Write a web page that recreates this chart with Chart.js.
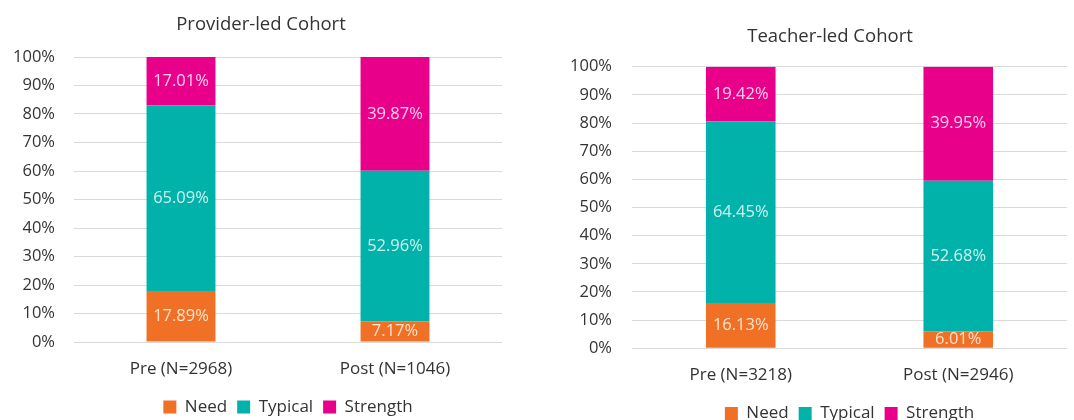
<!DOCTYPE html>
<html>
<head>
<meta charset="utf-8">
<script src="https://cdn.jsdelivr.net/npm/chart.js@4.4.0/dist/chart.umd.min.js"></script>
<style>
  html, body { margin: 0; padding: 0; background: #fff; overflow: hidden; width: 1074px; height: 420px; }
  canvas { position: absolute; top: 0; }
  #providerChart { left: 0; }
  #teacherChart { left: 540px; }
</style>
</head>
<body>
<canvas id="providerChart" width="540" height="440"></canvas>
<canvas id="teacherChart" width="534" height="440"></canvas>
<script>
// data
const groups = ["Need", "Typical", "Strength"];

const providerLabels = ["Pre (N=2968)", "Post (N=1046)"];
const providerNeed = [17.89, 7.17];
const providerTypical = [65.09, 52.96];
const providerStrength = [17.01, 39.87];

const teacherLabels = ["Pre (N=3218)", "Post (N=2946)"];
const teacherNeed = [16.13, 6.01];
const teacherTypical = [64.45, 52.68];
const teacherStrength = [19.42, 39.95];

const yTicks = [0, 10, 20, 30, 40, 50, 60, 70, 80, 90, 100];

const barColors = ["#F07026", "#00B2A9", "#E8008A"];
const textColors = ["#FFE3CF", "#CDF3EF", "#FFD0EA"];
const FONT = "'Open Sans', sans-serif";
const INK = "#333333";

// 100% stacked: each column is scaled to its own total
function toShares(rows) {
  return rows.map(r => r.map((v, i) => {
    let total = rows.reduce((s, row) => s + row[i], 0);
    return v / total * 100;
  }));
}

// value labels in the middle of each segment
const barLabels = {
  id: "barLabels",
  afterDatasetsDraw(chart) {
    const ctx = chart.ctx;
    ctx.save();
    ctx.font = "16.5px " + FONT;
    ctx.textAlign = "center";
    ctx.textBaseline = "middle";
    chart.data.datasets.forEach((ds, d) => {
      chart.getDatasetMeta(d).data.forEach((bar, i) => {
        const p = bar.getCenterPoint();
        ctx.fillStyle = ds.labelColor;
        ctx.fillText(ds.raw[i].toFixed(2) + "%", p.x, p.y);
      });
    });
    ctx.restore();
  }
};

// title sits a bit left of the plot centre, like the original
const sideTitle = {
  id: "sideTitle",
  afterDraw(chart, args, opts) {
    const ctx = chart.ctx;
    ctx.save();
    ctx.font = "18.5px " + FONT;
    ctx.fillStyle = INK;
    ctx.textAlign = "center";
    ctx.textBaseline = "middle";
    ctx.fillText(opts.text, opts.x, opts.y);
    ctx.restore();
  }
};

function makeChart(id, labels, need, typical, strength, title, L) {
  const raw = [need, typical, strength];
  const shares = toShares(raw);
  const ctx = document.getElementById(id).getContext("2d");

  return new Chart(ctx, {
    type: "bar",
    data: {
      labels: labels,
      datasets: groups.map((g, k) => ({
        label: g,
        data: shares[k],
        raw: raw[k],
        backgroundColor: barColors[k],
        labelColor: textColors[k],
        borderWidth: 0,
        categoryPercentage: 1,
        barPercentage: L.bar
      }))
    },
    plugins: [barLabels, sideTitle],
    options: {
      responsive: false,
      animation: false,
      layout: { padding: { top: L.padTop, right: L.padRight, bottom: L.padBottom, left: 0 } },
      scales: {
        x: {
          stacked: true,
          grid: { display: false, drawTicks: false },
          border: { display: false },
          ticks: { color: INK, font: { family: FONT, size: 17 }, padding: 16.8, maxRotation: 0 },
          afterFit(scale) { scale.height = L.xHeight; }
        },
        y: {
          stacked: true,
          min: 0,
          max: 100,
          afterBuildTicks(scale) { scale.ticks = yTicks.map(v => ({ value: v })); },
          grid: { color: "#D9D9D9", lineWidth: 1, drawTicks: false },
          border: { display: false },
          ticks: {
            color: INK,
            font: { family: FONT, size: 16.5 },
            padding: L.tickPad,
            callback: v => v + "%"
          },
          afterFit(scale) { scale.width = L.yWidth; }
        }
      },
      plugins: {
        legend: {
          position: "bottom",
          fullSize: false,
          labels: {
            color: INK,
            font: { family: FONT, size: 17 },
            boxWidth: 13,
            boxHeight: 13,
            padding: 10
          }
        },
        tooltip: { enabled: false },
        sideTitle: { text: title, x: L.titleX, y: L.titleY }
      }
    }
  });
}

makeChart("providerChart", providerLabels, providerNeed, providerTypical, providerStrength,
  "Provider-led Cohort",
  { padTop: 57, padRight: 38, padBottom: 14.5, yWidth: 74, tickPad: 19, xHeight: 46.5, titleX: 261, titleY: 25, bar: 0.322 });

makeChart("teacherChart", teacherLabels, teacherNeed, teacherTypical, teacherStrength,
  "Teacher-led Cohort",
  { padTop: 66.7, padRight: 7, padBottom: 8, yWidth: 92, tickPad: 20, xHeight: 46.7, titleX: 290, titleY: 37, bar: 0.32 });
</script>
</body>
</html>
